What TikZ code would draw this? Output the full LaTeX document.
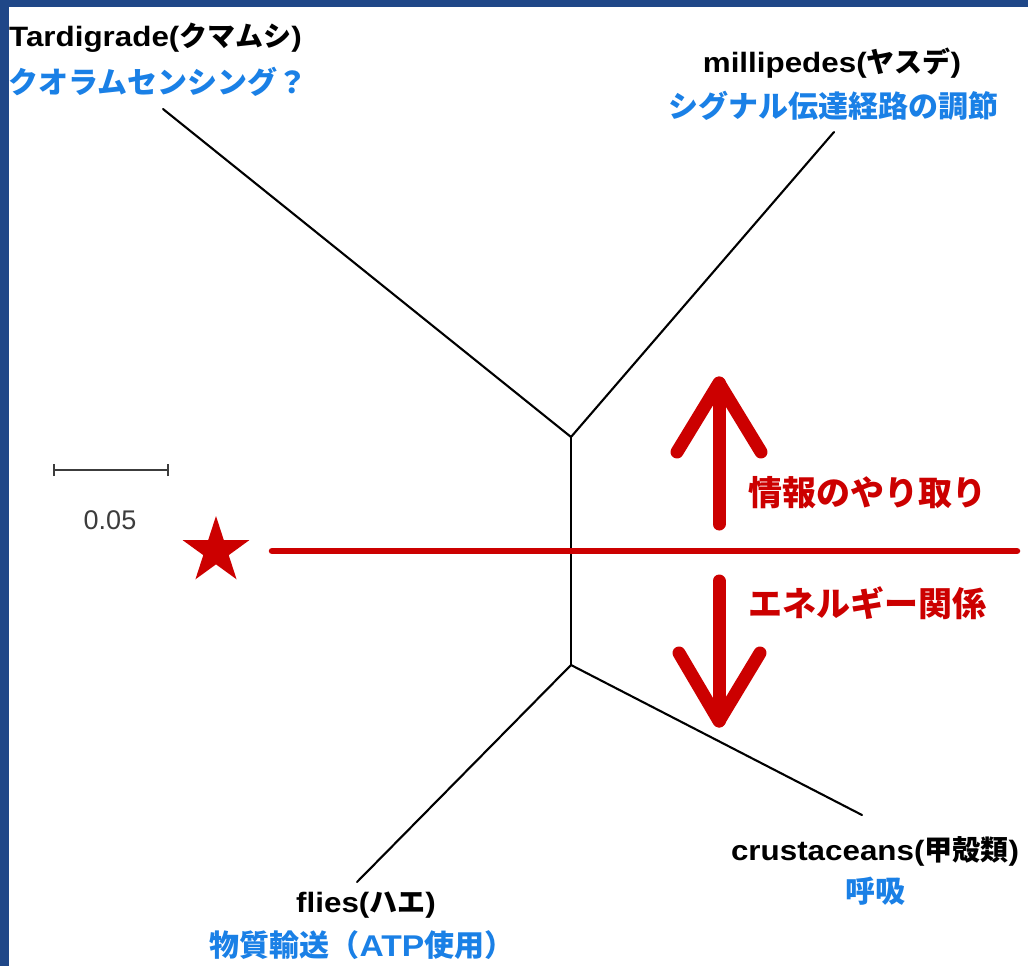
\documentclass[tikz,border=0pt]{standalone}
\usepackage{fontspec}
\usetikzlibrary{shapes.geometric}
\setmainfont{Liberation Sans}
\newfontfamily\latb{Liberation Sans}[FakeStretch=1.12]
\newfontfamily\jp{Noto Sans CJK JP}
\definecolor{frameblue}{RGB}{31,71,136}
\definecolor{labblue}{RGB}{26,128,230}
\definecolor{darkred}{RGB}{204,0,0}
\definecolor{scalegray}{RGB}{60,60,60}
\tikzset{
  branch/.style={line width=2.1pt, black, line cap=round},
  sptext/.style={inner sep=0pt, text=black, font=\latb\bfseries\fontsize{28}{31}\selectfont},
  roletext/.style={inner sep=0pt, text=labblue, font=\jp\bfseries\fontsize{30}{33}\selectfont},
  redtext/.style={inner sep=0pt, text=darkred, font=\jp\bfseries\fontsize{34}{38}\selectfont},
  redline/.style={line width=6.5pt, darkred, line cap=round},
  redarrow/.style={line width=13pt, darkred, line cap=round, line join=round},
  scalebar/.style={line width=1.8pt, scalegray}
}
\begin{document}
\begin{tikzpicture}[x=1pt,y=-1pt]
\useasboundingbox (0,0) rectangle (1028,966);
\fill[frameblue] (0,0) rectangle (1028,966);
\fill[white] (9,7) rectangle (1028,966);

% tree
\coordinate (n1) at (571,437);
\coordinate (n2) at (571,665);
\coordinate (tar) at (163,109);
\coordinate (mil) at (834,132);
\coordinate (fly) at (357,882);
\coordinate (cru) at (862,815);
\draw[branch] (tar) -- (n1) -- (mil);
\draw[branch] (n1) -- (n2);
\draw[branch] (fly) -- (n2) -- (cru);

% red split line
\coordinate (rl) at (272,551);
\coordinate (rr) at (1017,551);
\draw[redline] (rl) -- (rr);

% star
\node[star, star points=5, star point ratio=2.618, fill=darkred, minimum size=70pt, inner sep=0pt] (star) at (216,551) {};

% arrows
\coordinate (ub) at (719,524);
\coordinate (ut) at (719,383);
\coordinate (ul) at (677,452);
\coordinate (ur) at (761,452);
\draw[redarrow] (ub) -- (ut);
\draw[redarrow] (ul) -- (ut) -- (ur);
\coordinate (db) at (719,581);
\coordinate (dt) at (719,721);
\coordinate (dl) at (679,653);
\coordinate (dr) at (760,653);
\draw[redarrow] (db) -- (dt);
\draw[redarrow] (dl) -- (dt) -- (dr);

\node[redtext, anchor=west] (info) at (748,492.5) {情報のやり取り};
\node[redtext, anchor=west] (energy) at (748,603) {エネルギー関係};

% scale bar
\coordinate (sa) at (54,470);
\coordinate (sb) at (168,470);
\draw[scalebar] (sa) -- (sb);
\draw[scalebar] ([yshift=-6pt]sa) -- ([yshift=6pt]sa);
\draw[scalebar] ([yshift=-6pt]sb) -- ([yshift=6pt]sb);
\node[inner sep=0pt, text=scalegray, font=\fontsize{27}{30}\selectfont] (scale) at (110,520) {0.05};

% labels
\node[sptext, anchor=base west] (tarl) at (9,47) {Tardigrade({\jp クマムシ})};
\node[roletext, anchor=west] (tarr) at (8,81.5) {クオラムセンシング？};

\node[sptext, anchor=base] (mill) at (832,73) {millipedes({\jp ヤスデ})};
\node[roletext] (milr) at (833,105.5) {シグナル伝達経路の調節};

\node[sptext, anchor=base] (flyl) at (366,912) {flies({\jp ハエ})};
\node[roletext] (flyr) at (362,945.5) {物質輸送（{\latb ATP}使用）};

\node[sptext, anchor=base] (crul) at (875,860) {crustaceans({\jp 甲殻類})};
\node[roletext] (crur) at (875,891.5) {呼吸};
\end{tikzpicture}
\end{document}
